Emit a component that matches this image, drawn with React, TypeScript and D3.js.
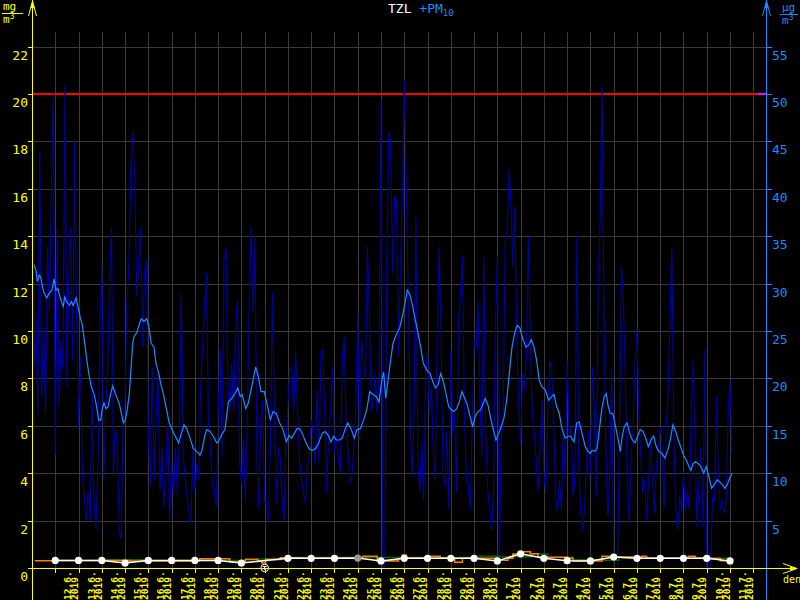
import React from "react";
import * as d3 from "d3";

// ---------- DATA ----------
const START = new Date(2019, 5, 11, 0, 0);
const END = new Date(2019, 6, 12, 13, 6);

const dayLabels = [
  "12.6.", "13.6.", "14.6.", "15.6.", "16.6.", "17.6.", "18.6.", "19.6.", "20.6.", "21.6.",
  "22.6.", "23.6.", "24.6.", "25.6.", "26.6.", "27.6.", "28.6.", "29.6.", "30.6.",
  "1.7.", "2.7.", "3.7.", "4.7.", "5.7.", "6.7.", "7.7.", "8.7.", "9.7.", "10.7.", "11.7.",
];
const yearLabel = "2019";
const leftTicks = [0, 2, 4, 6, 8, 10, 12, 14, 16, 18, 20, 22];
const rightTicks = [5, 10, 15, 20, 25, 30, 35, 40, 45, 50, 55];
const limitPM10 = 50;

// PM10 hourly (sampled every 2 hours from 11.6. 00:00), µg/m3
const pm10Part1 = [
  29.7, 20.9, 26.9, 15.9, 44.1, 18.1, 25.5, 16.3, 33.9, 27.2,
  39.9, 50.1, 11.9, 36.0, 17.0, 24.0, 20.9, 51.0, 19.1, 30.4,
  36.0, 21.9, 45.0, 26.2, 14.9, 22.3, 9.6, 7.5, 5.0, 7.9,
  5.0, 19.8, 6.8, 4.0, 11.0, 25.5, 32.0, 9.3, 16.3, 20.5,
  30.4, 36.0, 9.6, 14.9, 12.8, 4.0, 3.1, 15.6, 17.7, 28.3,
  32.1, 42.4, 45.9, 40.9, 28.6, 31.8, 36.0, 23.3, 31.1, 32.5,
  14.5, 8.6, 21.2, 9.3, 15.9, 20.5, 8.2, 12.8, 6.4, 10.3,
  15.6, 5.0, 11.0, 7.5, 12.8, 7.5, 14.5, 29.0, 12.1, 9.3,
  7.5, 5.8, 4.7, 12.8, 8.2, 11.0, 9.3, 19.1, 23.3, 27.9,
  31.1, 15.2, 12.8, 8.6, 8.2, 6.4, 16.3,
];
const pm10Part2 = [
  23.0, 11.7, 32.5, 33.9, 19.1, 16.3, 21.6, 16.3, 25.5, 28.3,
  11.4, 8.9, 13.5, 7.0, 15.6, 27.6, 36.0, 26.9, 35.0, 11.0,
  6.1, 15.6, 17.7, 7.1, 6.8, 5.0, 13.1, 29.0, 17.0, 6.8,
  12.8, 11.7, 6.8, 5.0, 13.5, 17.4, 21.2, 20.9, 16.3, 23.0,
  16.3, 11.4, 9.3, 7.9, 6.8, 10.7, 11.7, 15.6, 14.2, 11.0,
  18.8, 11.0, 22.6, 23.0, 16.3, 7.9, 14.5, 16.3, 21.2, 12.1,
  13.8, 11.4, 10.0, 21.9, 24.4, 15.6, 12.1, 8.9, 9.6, 12.8,
  17.0, 26.9, 13.5, 24.0, 21.6, 19.8, 33.9, 26.9, 16.3, 17.7,
  20.5, 16.3, 20.9, 49.4, 0, 0, 32.5, 46.0, 44.8, 31.1,
  39.2, 38.8, 22.3, 31.8, 39.2, 51.5,
];
const pm10Part3 = [
  40.6, 29.0, 16.3, 9.6, 15.6, 37.1, 11.0, 8.2, 13.1, 7.1,
  20.5, 23.0, 16.3, 19.1, 11.7, 9.3, 25.1, 33.9, 24.0, 10.0,
  8.6, 14.5, 6.1, 23.0, 14.2, 16.3, 7.9, 26.2, 29.0, 33.0,
  16.3, 9.3, 8.6, 6.1, 14.9, 24.0, 23.3, 28.1, 18.4, 11.7,
  32.8, 14.5, 8.2, 6.4, 4.0, 8.2, 25.5, 32.8, 0.5, 13.5,
  15.9, 33.9, 35.7, 42.0, 38.5, 31.8, 38.1, 24.4, 17.0, 13.1,
  20.5, 18.8, 22.6, 35.0, 23.7, 16.3, 14.2, 11.7, 8.2, 12.8,
  17.7, 10.0, 7.9, 16.3, 21.9, 20.9, 16.3, 7.5, 5.8, 9.3,
  6.1, 14.9, 9.3, 21.9, 13.8, 14.9, 7.5, 9.3, 35.0, 10.7,
  5.8, 4.0, 6.4, 11.0, 14.5,
];
const pm10Part4 = [
  10.0, 21.2, 16.3, 7.5, 30.4, 36.7, 50.8, 26.2, 12.1, 5.4,
  10.3, 21.2, 0, 0, 0, 14.5, 31.8, 28.6, 19.8, 9.3,
  4.7, 11.7, 14.5, 21.9, 25.1, 16.3, 11.7, 7.9, 9.3, 5.0,
  9.3, 13.8, 9.3, 5.8, 10.7, 12.8, 14.9, 12.8, 6.4, 14.5,
  18.1, 26.2, 33.9, 14.5, 5.8, 4.0, 7.5, 6.1, 10.0, 5.8,
  8.2, 6.1, 16.3, 21.9, 12.4, 4.3, 8.6, 12.8, 4.3, 23.0,
  0, 0, 0, 7.5, 7.1, 18.1, 9.6, 6.1, 7.1, 5.8,
  6.8, 16.3, 19.8, 12.1,
];
const pm10StepHours = 2;

// PM10 moving average [hours since 11.6. 00:00, µg/m3]
const pm10AvgA: [number, number][] = [
  [2.1, 32.0], [4.1, 31.4], [5.5, 30.2], [7.5, 30.9], [9.0, 30.7], [10.3, 29.9], [12.4, 29.0], [15.2, 28.5],
  [17.8, 29.0], [20.6, 29.3], [22.7, 30.5], [24.8, 29.3], [26.8, 29.5], [29.6, 28.3], [32.3, 27.6], [33.7, 28.6],
  [35.8, 28.1], [38.5, 27.7], [40.5, 28.1], [42.6, 27.7], [45.4, 28.5], [48.2, 27.2], [50.2, 26.2], [51.6, 25.8],
  [54.4, 23.7], [57.0, 21.6], [59.1, 20.2], [61.2, 19.1], [63.9, 18.4], [66.0, 17.4], [68.8, 15.6], [70.9, 15.6],
  [72.2, 16.7], [74.3, 17.4], [76.3, 16.8], [78.4, 17.0], [81.2, 18.4], [83.2, 19.2], [85.9, 18.4], [88.7, 17.7],
  [90.8, 17.0], [92.8, 16.0], [94.2, 15.3], [96.2, 15.6], [98.3, 16.7], [100.4, 18.4], [101.8, 20.5], [103.9, 23.7],
  [105.2, 24.4], [108.0, 24.8], [110.0, 25.5], [112.7, 26.3], [115.5, 26.0], [118.3, 26.3], [120.4, 25.5], [123.0, 23.7],
  [125.8, 23.3], [127.9, 21.6], [130.7, 20.5], [132.7, 19.5], [135.4, 18.4], [138.2, 17.0], [141.6, 15.3], [144.4, 14.6],
  [147.8, 13.9], [151.3, 13.2], [154.0, 14.2], [156.8, 15.1], [159.6, 14.7], [163.0, 13.7], [166.4, 12.6], [169.9, 12.3],
  [173.3, 11.9], [175.3, 12.4], [178.1, 13.9], [180.2, 14.6], [183.6, 14.4], [187.0, 13.9], [190.5, 13.2], [192.2, 13.3],
  [196.3, 14.2], [199.1, 14.6], [202.5, 17.5], [206.0, 17.9], [209.4, 18.4], [212.2, 19.0], [214.8, 18.1], [216.9, 18.3],
  [220.4, 16.8], [223.1, 17.4], [226.6, 19.1], [230.7, 21.2], [233.4, 20.2], [236.2, 18.6], [239.6, 18.6], [243.1, 17.0],
  [245.8, 15.6], [248.6, 16.5], [252.0, 16.3], [255.5, 15.3], [258.9, 14.6], [262.3, 13.3], [265.1, 14.0], [267.8, 13.7],
  [270.5, 14.2], [273.3, 14.7], [276.1, 14.7], [278.8, 14.2], [282.3, 13.3], [285.7, 12.6], [289.1, 12.4], [292.6, 12.6],
  [296.0, 13.3], [299.4, 14.2], [302.2, 14.4], [305.6, 14.0], [308.4, 13.3], [311.2, 13.9], [313.9, 13.5], [317.4, 13.5],
  [320.0, 13.7], [322.8, 14.6], [325.6, 15.3], [329.0, 14.7], [332.4, 13.7], [335.2, 14.6], [338.6, 14.7], [342.1, 15.6],
  [345.5, 16.8], [348.3, 18.6], [351.7, 18.3], [355.1, 18.1], [357.9, 17.5], [360.7, 19.7], [362.7, 20.7], [364.8, 17.9],
];
const pm10AvgB: [number, number][] = [
  [366.9, 19.5], [369.5, 21.6], [372.3, 23.7], [375.7, 24.6], [379.2, 25.3], [381.9, 26.5], [384.7, 27.9], [387.1, 29.3],
  [389.9, 28.8], [392.6, 27.6], [395.3, 26.2], [398.1, 24.8], [400.9, 23.3], [403.6, 21.6], [407.1, 20.9], [410.5, 20.5],
  [413.3, 19.7], [416.0, 19.0], [418.7, 19.3], [421.5, 20.5], [424.2, 19.7], [427.0, 18.4], [429.8, 17.0], [432.5, 16.7],
  [435.3, 16.5], [438.0, 16.8], [440.7, 17.5], [443.5, 18.6], [446.3, 17.9], [449.0, 17.2], [451.8, 16.0], [454.5, 14.9],
  [457.2, 16.0], [460.0, 16.5], [462.8, 16.7], [465.5, 17.4], [467.5, 17.9], [470.3, 17.2], [473.1, 15.8], [475.8, 14.6],
  [478.6, 13.5], [481.4, 14.2], [484.0, 14.9], [486.8, 15.8], [489.6, 17.7], [492.3, 20.5], [495.1, 23.3], [497.9, 24.8],
  [500.5, 25.6], [503.3, 25.3], [506.1, 24.2], [509.5, 23.3], [512.3, 23.5], [515.0, 24.1], [517.8, 23.3], [520.5, 21.9],
  [523.2, 19.8], [526.0, 19.1], [529.4, 18.8], [532.9, 17.7], [536.3, 18.1], [538.4, 18.3], [541.2, 17.0], [543.9, 16.3],
  [546.6, 14.7], [550.0, 13.7], [552.8, 13.9], [555.6, 13.9], [559.0, 13.3], [561.8, 15.3], [564.5, 15.4], [567.3, 14.2],
  [570.7, 12.8], [573.5, 12.3], [575.8, 12.1], [577.9, 12.4], [580.7, 12.3], [582.7, 12.6], [584.8, 14.2], [587.6, 16.7],
  [590.3, 18.1], [592.3, 18.4], [594.4, 17.0], [596.5, 16.3], [599.2, 16.3], [602.0, 14.9], [604.7, 13.5], [606.8, 12.3],
  [608.8, 13.9], [610.9, 14.9], [613.7, 15.3], [616.5, 14.2], [619.2, 13.5], [622.0, 13.2], [624.7, 13.9], [627.4, 14.6],
  [630.2, 14.4], [633.0, 13.7], [635.7, 12.8], [638.4, 13.5], [641.2, 13.9], [643.9, 12.8], [646.7, 12.3], [649.5, 12.1],
  [652.9, 11.6], [655.7, 12.4], [658.3, 13.5], [661.1, 15.1], [663.9, 14.4], [666.6, 13.5], [669.7, 12.6], [672.1, 11.9],
  [674.8, 11.4], [677.6, 10.7], [679.7, 10.3], [681.8, 11.0], [684.5, 11.2], [687.2, 11.0], [690.0, 10.7], [692.8, 10.0],
  [695.5, 10.7], [698.3, 9.6], [701.0, 8.4], [703.7, 8.8], [706.8, 9.3], [709.3, 9.1], [712.0, 8.8], [714.8, 8.4],
  [717.5, 8.9], [720.2, 9.6], [722.3, 10.0],
];

// TZL daily values (mg/m3), at midnight of each labelled day; null = missing
const tzlDaily: (number | null)[] = [
  0.32, 0.32, 0.32, 0.21, 0.32, 0.32, 0.32, 0.32, 0.21, null,
  0.41, 0.41, 0.41, 0.42, 0.30, 0.41, 0.41, 0.41, 0.41, 0.30,
  0.60, 0.41, 0.31, 0.30, 0.46, 0.41, 0.41, 0.41, 0.41, 0.30,
];
const tzlUncertainIndex = 13;

// secondary step series [hours, mg/m3]
const orangeSeries: [number, number][] = [
  [3, 0.31], [23, 0.32], [100, 0.30], [173, 0.39], [204, 0.25], [220, 0.36], [233, 0.30], [237, 0.21],
  [241, 0.36], [256, 0.43], [276, 0.41], [341, 0.50], [356, 0.30], [378, 0.40], [382, 0.55], [386, 0.41],
  [408, 0.50], [421, 0.41], [436, 0.24], [444, 0.41], [480, 0.33], [491, 0.41], [496, 0.59], [506, 0.69],
  [514, 0.60], [522, 0.45], [552, 0.41], [558, 0.30], [588, 0.50], [596, 0.46], [629, 0.50], [634, 0.41],
  [677, 0.50], [684, 0.41], [701, 0.40], [710, 0.31], [720, 0.31],
];
const greenSeries: [number, number][] = [
  [71, 0.35], [120, 0.32], [173, 0.32], [220, 0.38], [266, 0.44], [459, 0.50], [483, 0.47], [515, 0.59],
  [532, 0.45], [558, 0.35], [590, 0.33], [605, 0.44], [620, 0.41], [720, 0.41],
];

// ---------- COLOURS ----------
const YELLOW = "#ffff00";
const BLUE = "#1a8cff";
const DARKBLUE = "#0000a0";
const GRID = "#3a3a3a";
const FONT = "DejaVu Sans Mono";

export default function App() {
  const x = d3.scaleTime().domain([START, END]).range([32, 766]);
  const yL = d3.scaleLinear().domain([0, 22]).range([568, 46.6]);
  const yR = d3.scaleLinear().domain([0, 55]).range([568, 46.6]);
  const hourDate = (h: number) => new Date(START.getTime() + h * 3600e3);

  const dayTicks = d3.timeDay.range(new Date(2019, 5, 12), new Date(2019, 6, 13));

  const pm10 = [...pm10Part1, ...pm10Part2, ...pm10Part3, ...pm10Part4];
  const hourlyLine = d3
    .line<number>()
    .x((_, i) => x(hourDate(i * pm10StepHours)))
    .y((v) => yR(v));
  const avgLine = d3
    .line<[number, number]>()
    .x((d) => x(hourDate(d[0])))
    .y((d) => yR(d[1]));
  const stepLine = d3
    .line<[number, number]>()
    .curve(d3.curveStepAfter)
    .x((d) => x(hourDate(d[0])))
    .y((d) => yL(d[1]));

  const dailyPts = tzlDaily
    .map((v, i) => ({ v, d: dayTicks[i], i }))
    .filter((p) => p.v !== null) as { v: number; d: Date; i: number }[];
  const whiteLine = d3
    .line<{ v: number; d: Date }>()
    .x((p) => x(p.d))
    .y((p) => yL(p.v));
  const missing = tzlDaily
    .map((v, i) => ({ v, d: dayTicks[i] }))
    .filter((p) => p.v === null);

  const x0 = x.range()[0];
  const x1 = x.range()[1];
  const yBase = yL(0);

  return (
    <svg
      width={800}
      height={600}
      style={{ position: "absolute", left: 0, top: 0, background: "#000" }}
      fontFamily={FONT}
    >
      <rect x={0} y={0} width={800} height={600} fill="#000" />

      {/* grid */}
      {leftTicks
        .filter((t) => t > 0)
        .map((t) => (
          <line key={"hg" + t} x1={x0} x2={x1} y1={Math.round(yL(t)) + 0.5} y2={Math.round(yL(t)) + 0.5} stroke={GRID} />
        ))}
      {dayTicks.map((d, i) => (
        <line key={"vg" + i} x1={Math.round(x(d)) + 0.5} x2={Math.round(x(d)) + 0.5} y1={32} y2={yBase} stroke={GRID} />
      ))}

      {/* limit line */}
      <line x1={x0} x2={x(hourDate(749))} y1={yR(limitPM10)} y2={yR(limitPM10)} stroke="#ff0000" strokeWidth={2} />
      <line x1={x(hourDate(749))} x2={x1} y1={yR(limitPM10)} y2={yR(limitPM10)} stroke="#ff00ff" strokeWidth={2} />

      {/* PM10 hourly */}
      <path d={hourlyLine(pm10) || ""} fill="none" stroke={DARKBLUE} strokeWidth={1.1} />
      {/* PM10 average */}
      <path d={avgLine([...pm10AvgA, ...pm10AvgB]) || ""} fill="none" stroke={BLUE} strokeWidth={1.2} />

      {/* TZL lines */}
      <path d={stepLine(greenSeries) || ""} fill="none" stroke="#006400" strokeWidth={1.5} />
      <path d={stepLine(orangeSeries) || ""} fill="none" stroke="#ff8000" strokeWidth={1.5} />
      <path d={whiteLine(dailyPts) || ""} fill="none" stroke="#ffffff" strokeWidth={1.5} />
      {dailyPts.map((p) => (
        <circle
          key={"dot" + p.i}
          cx={x(p.d)}
          cy={yL(p.v)}
          r={3.6}
          fill={p.i === tzlUncertainIndex ? "#9a9a9a" : "#ffffff"}
        />
      ))}
      {missing.map((p, i) => (
        <g key={"miss" + i}>
          <circle cx={x(p.d)} cy={yBase} r={3.8} fill="#000" stroke="#ffffff" strokeWidth={1} />
          <line x1={x(p.d) - 2} x2={x(p.d) + 2} y1={yBase - 1.5} y2={yBase - 1.5} stroke="#fff" />
          <line x1={x(p.d)} x2={x(p.d)} y1={yBase - 1.5} y2={yBase + 2} stroke="#fff" />
        </g>
      ))}

      {/* left axis */}
      <line x1={32.5} x2={32.5} y1={0} y2={600} stroke={YELLOW} />
      <path d="M28.5,16 L32.5,1 L36.5,16" fill="none" stroke={YELLOW} />
      <path d="M30.5,8 L32.5,0 L34.5,8 Z" fill={YELLOW} />
      {leftTicks.map((t) => (
        <g key={"lt" + t}>
          <line x1={28} x2={32} y1={Math.round(yL(t)) + 0.5} y2={Math.round(yL(t)) + 0.5} stroke={YELLOW} />
          <text x={28} y={yL(t) + 13} textAnchor="end" fontSize={13} fill={YELLOW}>
            {t}
          </text>
        </g>
      ))}
      <text x={3} y={10} fontSize={11} fill={YELLOW}>mg</text>
      <line x1={2} x2={23} y1={13.5} y2={13.5} stroke={YELLOW} />
      <text x={3} y={23} fontSize={11} fill={YELLOW}>
        m<tspan fontSize={8} dy={-4}>3</tspan>
      </text>

      {/* right axis */}
      <line x1={766.5} x2={766.5} y1={0} y2={600} stroke={BLUE} />
      <path d="M762.5,16 L766.5,1 L770.5,16" fill="none" stroke={BLUE} />
      <path d="M764.5,8 L766.5,0 L768.5,8 Z" fill={BLUE} />
      {rightTicks.map((t) => (
        <g key={"rt" + t}>
          <line x1={767} x2={772} y1={Math.round(yR(t)) + 0.5} y2={Math.round(yR(t)) + 0.5} stroke={BLUE} />
          <text x={772} y={yR(t) + 13} fontSize={13} fill={BLUE}>
            {t}
          </text>
        </g>
      ))}
      <text x={782} y={11} fontSize={11} fill={BLUE}>µg</text>
      <line x1={780} x2={798} y1={14.5} y2={14.5} stroke={BLUE} />
      <text x={782} y={24} fontSize={11} fill={BLUE}>
        m<tspan fontSize={8} dy={-4}>3</tspan>
      </text>

      {/* x axis */}
      <line x1={32} x2={797} y1={568.5} y2={568.5} stroke={YELLOW} />
      <path d="M783,563.5 L797,568.5 L783,573.5" fill="none" stroke={YELLOW} />
      <path d="M790,566.5 L798,568.5 L790,570.5 Z" fill={YELLOW} />
      <text x={783} y={583} fontSize={10} fill={YELLOW}>den</text>
      {dayTicks.map((d, i) => {
        const tx = Math.round(x(d)) + 0.5;
        return (
          <g key={"xt" + i}>
            <line x1={tx} x2={tx} y1={568} y2={573} stroke={YELLOW} />
            {i < dayLabels.length && (
              <>
                <text
                  transform={`translate(${tx + 15},600) rotate(-90)`}
                  fontSize={9.5}
                  fontWeight="bold"
                  fill={YELLOW}
                >
                  {dayLabels[i]}
                </text>
                <text
                  transform={`translate(${tx + 22.5},600) rotate(-90)`}
                  fontSize={9.5}
                  fontWeight="bold"
                  fill={YELLOW}
                >
                  {yearLabel}
                </text>
              </>
            )}
          </g>
        );
      })}

      {/* title */}
      <text x={388} y={13} fontSize={13}>
        <tspan fill="#ffffff">TZL </tspan>
        <tspan fill={BLUE}>+PM</tspan>
        <tspan fill={BLUE} fontSize={9} dy={3}>10</tspan>
      </text>
    </svg>
  );
}
